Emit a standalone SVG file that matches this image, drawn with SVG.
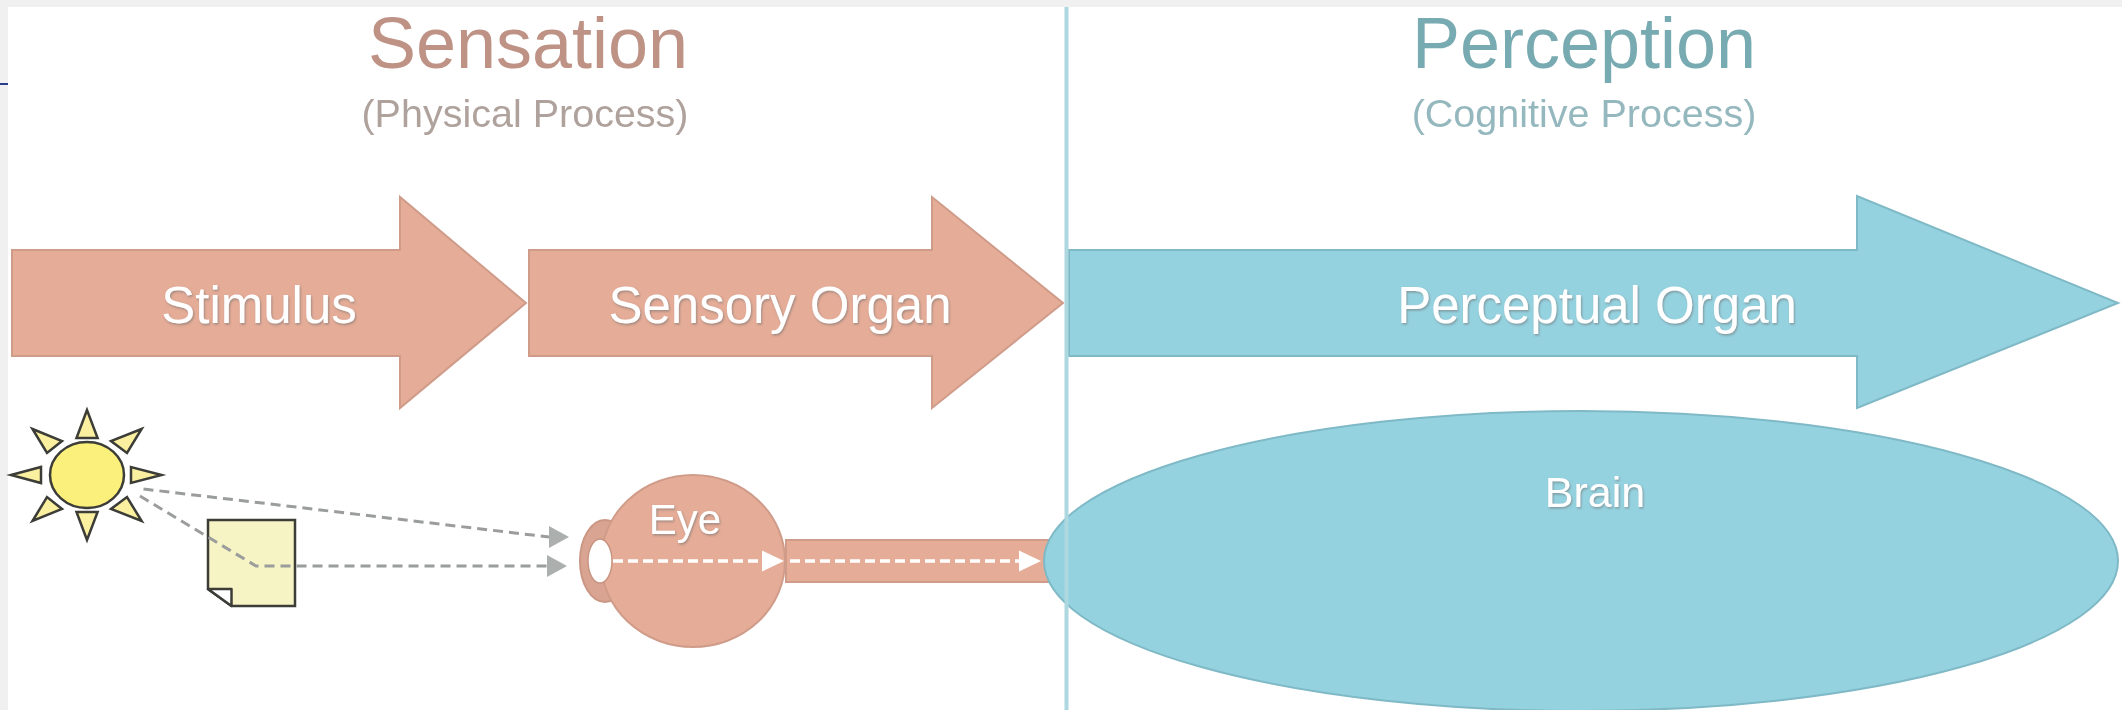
<svg xmlns="http://www.w3.org/2000/svg" width="2122" height="710" viewBox="0 0 2122 710">
<style>
text{font-family:"Liberation Sans",Arial,sans-serif;text-anchor:middle}
.salmon{fill:#E5AC97;stroke:#D09C8A;stroke-width:2}
.teal{fill:#95D2E0;stroke:#7FB9C6;stroke-width:2}
.label{fill:#fff;filter:url(#shadow)}
.ray,.sun{fill:#FBF0A0;stroke:#3c3c38;stroke-width:2.5;stroke-linejoin:miter}
.sun{fill:#FBF07C}
.gray{fill:none;stroke:#9a9d9b;stroke-width:3;stroke-dasharray:10 6}
.white{fill:none;stroke:#fff;stroke-width:3.5;stroke-dasharray:10 5}
</style>
<defs>
<filter id="shadow" x="-10%" y="-20%" width="120%" height="140%"><feDropShadow dx="1" dy="1.5" stdDeviation="1" flood-color="#6f6f6f" flood-opacity=".6"/></filter>
<filter id="soft" filterUnits="userSpaceOnUse" x="0" y="0" width="2122" height="710"><feGaussianBlur stdDeviation="0.7"/></filter>
<marker id="ag" markerUnits="userSpaceOnUse" markerWidth="20" markerHeight="24" refX="0" refY="12" orient="0"><path d="M0 1L20 12L0 23Z" fill="#abafad"/></marker>
<marker id="aw" markerUnits="userSpaceOnUse" markerWidth="24" markerHeight="24" refX="0" refY="12" orient="auto"><path d="M0 1.500L22 12L0 22.500Z" fill="#fff"/></marker>
</defs>
<rect width="2122" height="710" fill="#fff"/>
<g filter="url(#soft)">
<rect id="frame-top" width="2122" height="7" fill="#F0F0F0"/>
<rect id="frame-left" width="8" height="710" fill="#F0F0F0"/>
<rect id="edge-mark" y="83" width="8" height="2" fill="#2C3E8C"/>

<g id="title-sensation">
<text x="528" y="68" font-size="72" fill="#BE9386">Sensation</text>
<text x="525" y="127" font-size="39.500" fill="#AFA29C">(Physical Process)</text>
</g>
<g id="title-perception">
<text x="1584" y="68" font-size="72" fill="#78ABB1">Perception</text>
<text x="1584" y="127" font-size="39.500" fill="#95B8BE">(Cognitive Process)</text>
</g>

<g id="stimulus">
<path class="salmon" d="M12 250H400V197L526 303L400 408V356H12Z"/>
<text class="label" x="259" y="323" font-size="51">Stimulus</text>
</g>
<g id="sensory-organ">
<path class="salmon" d="M529 250H932V197L1063 303L932 408V356H529Z"/>
<text class="label" x="780" y="323" font-size="51">Sensory Organ</text>
</g>
<g id="perceptual-organ">
<path class="teal" d="M1069 250H1857V196L2118 303L1857 408V356H1069Z"/>
<text class="label" x="1597" y="323" font-size="51">Perceptual Organ</text>
</g>

<g id="optic-nerve">
<rect class="salmon" x="786" y="540" width="274" height="42"/>
</g>
<g id="brain">
<ellipse class="teal" cx="1581" cy="561" rx="537" ry="150"/>
<text class="label" x="1595" y="507" font-size="43">Brain</text>
</g>
<g id="eye">
<ellipse cx="605" cy="561" rx="25" ry="41" fill="#D9A592" stroke="#CB9785" stroke-width="2"/>
<ellipse cx="693" cy="561" rx="92" ry="86" fill="#E5AC97" stroke="#D09C8A" stroke-width="2"/>
<ellipse cx="600" cy="561" rx="12" ry="22" fill="#fff" stroke="#C99583" stroke-width="1.500"/>
<text class="label" x="685" y="534" font-size="42">Eye</text>
</g>

<g id="sun">
<path class="ray" d="M87 410L76.500 438H97.600Z"/>
<path class="ray" d="M87 540L76.500 512H97.600Z"/>
<path class="ray" d="M11 475L41 467V483Z"/>
<path class="ray" d="M161.500 475L131 467V483Z"/>
<path class="ray" d="M32.500 429L62 441L47 453Z"/>
<path class="ray" d="M141.600 429L111 441L127 453Z"/>
<path class="ray" d="M32.500 521L47 497L62 509Z"/>
<path class="ray" d="M141.600 521L127 497L111 509Z"/>
<ellipse class="sun" cx="87" cy="475" rx="37" ry="33"/>
</g>
<g id="note">
<path d="M208 520H295V606H231.500L208 589Z" fill="#F6F3C4" stroke="#3c3c38" stroke-width="2.500"/>
<path d="M208 589H231.500V606Z" fill="#fff" stroke="#3c3c38" stroke-width="2.500" stroke-linejoin="round"/>
</g>

<g id="connectors">
<path class="gray" d="M143.500 489L549 537" marker-end="url(#ag)"/>
<path class="gray" d="M140 496L256 566H547" marker-end="url(#ag)"/>
<path class="white" d="M613 561H762" marker-end="url(#aw)"/>
<path class="white" d="M790 561H1019" marker-end="url(#aw)"/>
</g>
<rect id="divider" x="1064.500" y="7" width="4" height="703" fill="#AED8DF"/>
</g>
</svg>
